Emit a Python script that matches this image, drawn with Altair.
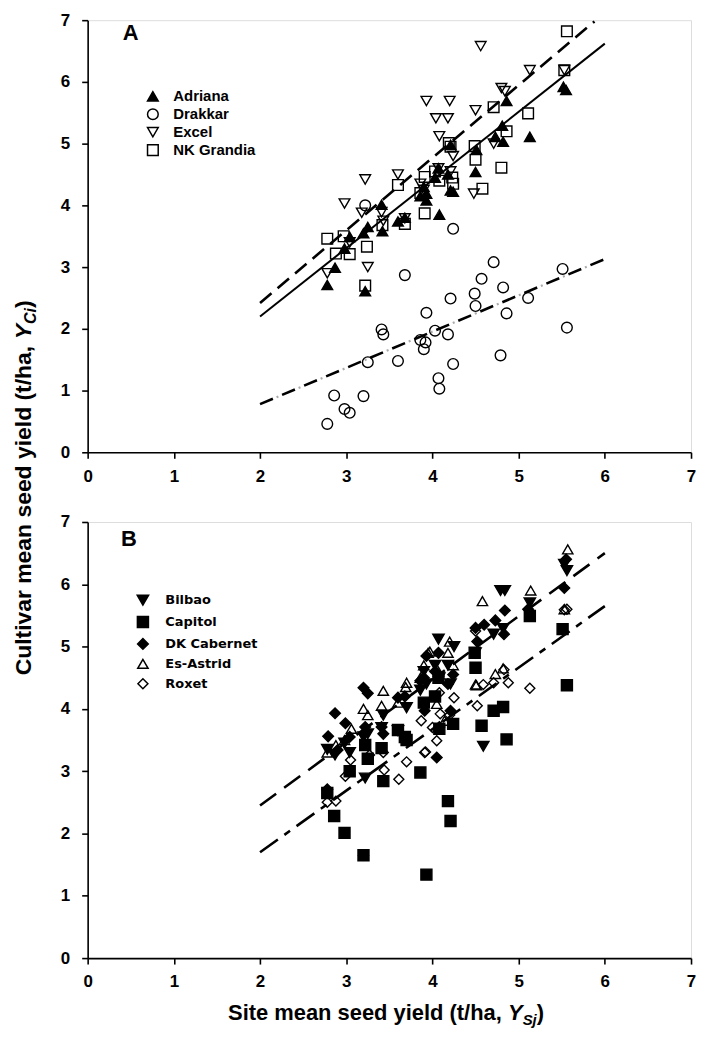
import altair as alt
import pandas as pd

FONT = "Liberation Sans"
TICKS = [0, 1, 2, 3, 4, 5, 6, 7]

# ---------------- Panel A data ----------------
NAMES_A = ["Adriana", "Drakkar", "Excel", "NK Grandia"]

ADRIANA_X = [2.78, 2.87, 2.98, 3.04, 3.20, 3.22, 3.25, 3.41, 3.42, 3.60, 3.68, 3.86, 3.90, 3.93, 3.93, 4.03,
             4.07, 4.08, 4.18, 4.21, 4.21, 4.24, 4.50, 4.51, 4.73, 4.82, 4.81, 4.86, 5.13, 5.52, 5.55]
ADRIANA_Y = [2.71, 2.99, 3.30, 3.49, 3.55, 2.61, 3.65, 4.01, 3.58, 3.74, 3.80, 4.15, 4.30, 4.19, 4.08, 4.45,
             4.60, 3.85, 4.50, 4.98, 4.24, 4.22, 4.54, 4.90, 5.11, 5.03, 5.29, 5.69, 5.11, 5.92, 5.87]

DRAKKAR_X = [2.78, 2.86, 2.98, 3.04, 3.20, 3.22, 3.25, 3.41, 3.43, 3.60, 3.68, 3.86, 3.90, 3.92, 3.93, 4.03,
             4.07, 4.08, 4.18, 4.21, 4.24, 4.24, 4.49, 4.50, 4.57, 4.71, 4.79, 4.82, 4.86, 5.11, 5.51, 5.56]
DRAKKAR_Y = [0.46, 0.92, 0.70, 0.64, 0.91, 4.00, 1.46, 1.99, 1.91, 1.48, 2.87, 1.82, 1.67, 1.78, 2.26, 1.97,
             1.20, 1.03, 1.91, 2.49, 1.43, 3.62, 2.57, 2.37, 2.81, 3.08, 1.57, 2.67, 2.25, 2.50, 2.97, 2.02]

EXCEL_X = [2.78, 2.98, 3.04, 3.18, 3.22, 3.25, 3.41, 3.43, 3.60, 3.68, 3.86, 3.90, 3.93, 4.04, 4.07, 4.08,
           4.18, 4.20, 4.21, 4.24, 4.48, 4.50, 4.56, 4.71, 4.80, 4.84, 5.13, 5.53]
EXCEL_Y = [2.90, 4.03, 3.40, 3.88, 4.42, 3.00, 3.89, 3.75, 4.50, 3.79, 4.35, 4.25, 5.69, 5.41, 4.60, 5.12,
           5.41, 5.69, 4.55, 4.80, 4.19, 5.54, 6.58, 5.00, 5.90, 5.85, 6.19, 6.19]

NK_X = [2.78, 2.88, 2.97, 3.04, 3.22, 3.24, 3.42, 3.60, 3.68, 3.86, 3.91, 3.91, 4.03, 4.08, 4.19, 4.21,
        4.23, 4.24, 4.49, 4.50, 4.58, 4.71, 4.80, 4.86, 5.11, 5.53, 5.56]
NK_Y = [3.46, 3.22, 3.50, 3.21, 2.70, 3.33, 3.68, 4.33, 3.70, 4.20, 3.87, 4.46, 4.55, 4.40, 5.01, 4.95,
        4.45, 4.35, 4.96, 4.74, 4.27, 5.59, 4.61, 5.20, 5.49, 6.19, 6.82]

# regression lines, panel A
LINE_X = [2.0, 6.0]
A_ALL_Y = [2.20, 6.62]
A_DASH_X = [2.0, 5.88]
A_DASH_Y = [2.42, 6.98]
A_DRAKKAR_Y = [0.78, 3.13]

# ---------------- Panel B data ----------------
NAMES_B = ["Bilbao", "Capitol", "DK Cabernet", "Es-Astrid", "Roxet"]

BILBAO_X = [2.78, 2.87, 2.98, 3.04, 3.20, 3.22, 3.25, 3.41, 3.43, 3.60, 3.70, 3.86, 3.90, 3.93, 4.03, 4.07,
            4.08, 4.18, 4.21, 4.25, 4.50, 4.59, 4.71, 4.79, 4.84, 4.82, 5.13, 5.53, 5.56]
BILBAO_Y = [3.35, 3.26, 3.45, 3.30, 3.55, 2.89, 3.60, 3.70, 3.90, 3.65, 4.02, 4.30, 4.60, 4.40, 4.70, 5.12,
            4.50, 4.70, 4.40, 5.00, 4.90, 3.40, 5.20, 5.90, 5.90, 5.29, 5.70, 6.32, 6.22]

CAPITOL_X = [2.78, 2.86, 2.98, 3.04, 3.20, 3.22, 3.25, 3.41, 3.43, 3.60, 3.68, 3.70, 3.86, 3.90, 3.93, 4.03,
             4.07, 4.08, 4.18, 4.21, 4.24, 4.49, 4.50, 4.57, 4.71, 4.82, 4.86, 5.13, 5.51, 5.56]
CAPITOL_Y = [2.65, 2.28, 2.01, 3.00, 1.65, 3.42, 3.20, 3.37, 2.84, 3.66, 3.55, 3.50, 2.98, 4.10, 1.34, 4.20,
             4.50, 3.68, 2.52, 2.20, 3.76, 4.90, 4.66, 3.73, 3.97, 4.03, 3.51, 5.49, 5.28, 4.38]

DK_X = [2.78, 2.79, 2.87, 2.90, 2.99, 3.04, 3.20, 3.22, 3.25, 3.41, 3.43, 3.60, 3.68, 3.86, 3.90, 3.91,
        3.93, 4.03, 4.05, 4.07, 4.08, 4.18, 4.21, 4.24, 4.50, 4.52, 4.60, 4.73, 4.83, 4.84, 5.11, 5.53, 5.55]
DK_Y = [2.71, 3.56, 3.93, 3.34, 3.77, 3.55, 4.34, 3.71, 4.25, 3.71, 3.60, 4.18, 4.20, 4.45, 4.50, 3.97,
        4.85, 4.60, 3.22, 4.90, 3.71, 4.40, 3.97, 4.55, 5.30, 5.08, 5.35, 5.42, 5.20, 5.58, 5.60, 5.94, 6.40]

ASTRID_X = [2.78, 2.88, 2.98, 3.06, 3.20, 3.25, 3.41, 3.43, 3.60, 3.69, 3.70, 3.86, 3.90, 3.95, 3.97, 4.05,
            4.07, 4.14, 4.18, 4.20, 4.24, 4.50, 4.51, 4.58, 4.73, 4.82, 5.14, 5.53, 5.57]
ASTRID_Y = [3.30, 3.42, 3.50, 3.68, 4.00, 3.90, 4.05, 4.29, 4.10, 4.35, 4.42, 4.50, 4.70, 4.90, 4.92, 4.08,
            4.60, 3.81, 4.90, 5.08, 4.70, 4.39, 4.38, 5.73, 4.56, 4.65, 5.90, 5.60, 6.56]

ROXET_X = [2.78, 2.88, 2.99, 3.05, 3.20, 3.27, 3.43, 3.44, 3.61, 3.70, 3.87, 3.91, 3.92, 4.00, 4.05, 4.08,
           4.09, 4.20, 4.25, 4.50, 4.52, 4.59, 4.71, 4.83, 4.88, 5.13, 5.53, 5.56]
ROXET_Y = [2.50, 2.52, 2.92, 3.18, 1.65, 3.26, 3.30, 3.02, 2.87, 3.15, 3.81, 3.30, 3.31, 3.70, 3.49, 4.26,
           3.92, 3.90, 4.18, 5.25, 4.05, 4.39, 4.42, 4.63, 4.42, 4.33, 5.59, 5.60]

# regression lines, panel B
B_UPPER_Y = [2.45, 6.50]
B_LOWER_Y = [1.70, 5.65]


def make_df(names, xs_list, ys_list):
    frames = []
    for n, xv, yv in zip(names, xs_list, ys_list):
        frames.append(pd.DataFrame({"x": xv, "y": yv, "cultivar": n}))
    return pd.concat(frames, ignore_index=True)


dfA = make_df(NAMES_A, [ADRIANA_X, DRAKKAR_X, EXCEL_X, NK_X], [ADRIANA_Y, DRAKKAR_Y, EXCEL_Y, NK_Y])
dfB = make_df(NAMES_B, [BILBAO_X, CAPITOL_X, DK_X, ASTRID_X, ROXET_X],
              [BILBAO_Y, CAPITOL_Y, DK_Y, ASTRID_Y, ROXET_Y])

W = 606
HA = 434
HB = 438


def axis():
    return alt.Axis(values=TICKS, format="d", title=None, grid=False, domainColor="black", domainWidth=1.6,
                    tickColor="black", tickWidth=1.6, tickSize=6, labelFont=FONT, labelFontSize=17,
                    labelFontWeight="bold", labelColor="black", labelPadding=10, labelFlush=False,
                    labelOverlap=False)


def yaxis():
    return alt.Axis(values=TICKS, format="d", title=None, grid=False, domainColor="black", domainWidth=1.6,
                    tickColor="black", tickWidth=1.6, tickSize=6, labelFont=FONT, labelFontSize=17,
                    labelFontWeight="bold", labelColor="black", labelPadding=12, labelFlush=False,
                    labelOverlap=False)


xs = alt.Scale(domain=[0, 7], nice=False, zero=False)
ys = alt.Scale(domain=[0, 7], nice=False, zero=False)


def line(xv, yv, width, dash=None, color="black"):
    d = pd.DataFrame({"x": xv, "y": yv})
    kw = dict(color=color, strokeWidth=width)
    if dash is not None:
        kw["strokeDash"] = dash
    return alt.Chart(d).mark_line(**kw).encode(x=alt.X("x:Q", scale=xs), y=alt.Y("y:Q", scale=ys))


def txt(s, x, y, size, angle=0, align="left", baseline="alphabetic", style="normal"):
    d = pd.DataFrame({"t": [s]})
    kw = dict(align=align, baseline=baseline, fontSize=size, fontWeight="bold", font=FONT,
              color="black", fontStyle=style)
    if angle:
        kw["angle"] = angle
    return alt.Chart(d).mark_text(**kw).encode(x=alt.value(x), y=alt.value(y), text="t:N")


# ---------------- Panel A chart ----------------
legA = alt.Legend(title=None, orient="none", legendX=58, legendY=69, padding=0,
                  labelFont=FONT, labelFontSize=15, labelFontWeight="bold", labelColor="black",
                  labelOffset=13, rowPadding=1, symbolStrokeWidth=1.5, symbolSize=115)

ptsA = alt.Chart(dfA).mark_point(opacity=1, size=115, strokeWidth=1.4).encode(
    x=alt.X("x:Q", scale=xs, axis=axis()),
    y=alt.Y("y:Q", scale=ys, axis=yaxis()),
    shape=alt.Shape("cultivar:N", scale=alt.Scale(domain=NAMES_A,
                    range=["triangle-up", "circle", "triangle-down", "square"]), legend=legA),
    fill=alt.Fill("cultivar:N", scale=alt.Scale(domain=NAMES_A,
                  range=["black", "transparent", "transparent", "transparent"]), legend=legA),
    stroke=alt.Stroke("cultivar:N", scale=alt.Scale(domain=NAMES_A,
                      range=["black", "black", "black", "black"]), legend=legA),
)

labA = alt.Chart(pd.DataFrame({"x": [0.50], "y": [6.79], "t": ["A"]})).mark_text(
    fontSize=22, fontWeight="bold", font=FONT, color="black", baseline="middle").encode(
    x=alt.X("x:Q", scale=xs), y=alt.Y("y:Q", scale=ys), text="t:N")

# shared y axis title, drawn in rotated pieces (italic subscript part)
ytitle = [
    txt("Cultivar mean seed yield (t/ha, ", -57, 658.0, 23, angle=270),
    txt("Y", -57, 320.5, 23, angle=270, style="italic"),
    txt("Ci", -52, 305.2, 16, angle=270, style="italic"),
    txt(")", -57, 289.2, 23, angle=270),
]

chartA = alt.layer(
    ptsA,
    line(LINE_X, A_ALL_Y, 2),
    line(A_DASH_X, A_DASH_Y, 2.6, [15, 8]),
    line(LINE_X, A_DRAKKAR_Y, 2.6, [14, 10]),
    line(LINE_X, A_DRAKKAR_Y, 2.2, [0, 18, 2, 4], color="#aaaaaa"),
    labA,
    *ytitle,
).properties(width=W, height=HA)

# ---------------- Panel B chart ----------------
legB = alt.Legend(title=None, orient="none", legendX=49, legendY=72, padding=0,
                  labelFont="DejaVu Sans", labelFontSize=13, labelFontWeight="bold", labelColor="black",
                  labelOffset=16, rowPadding=4, symbolStrokeWidth=1.5)

ptsB = alt.Chart(dfB).mark_point(opacity=1, strokeWidth=1.4).encode(
    x=alt.X("x:Q", scale=xs, axis=axis()),
    y=alt.Y("y:Q", scale=ys, axis=yaxis()),
    shape=alt.Shape("cultivar:N", scale=alt.Scale(domain=NAMES_B,
                    range=["triangle-down", "square", "diamond", "triangle-up", "diamond"]), legend=legB),
    fill=alt.Fill("cultivar:N", scale=alt.Scale(domain=NAMES_B,
                  range=["black", "black", "black", "transparent", "transparent"]), legend=legB),
    stroke=alt.Stroke("cultivar:N", scale=alt.Scale(domain=NAMES_B,
                      range=["black", "black", "black", "black", "black"]), legend=legB),
    size=alt.Size("cultivar:N", scale=alt.Scale(domain=NAMES_B,
                  range=[130, 100, 240, 130, 240]), legend=legB),
)

labB = alt.Chart(pd.DataFrame({"x": [0.48], "y": [6.72], "t": ["B"]})).mark_text(
    fontSize=22, fontWeight="bold", font=FONT, color="black", baseline="middle").encode(
    x=alt.X("x:Q", scale=xs), y=alt.Y("y:Q", scale=ys), text="t:N")

xtitle = [
    txt("Site mean seed yield (t/ha, ", 141, 500, 22),
    txt("Y", 422.2, 500, 22, style="italic"),
    txt("Sj", 436.9, 505, 15, style="italic"),
    txt(")", 451.1, 500, 22),
]

chartB = alt.layer(
    ptsB,
    line(LINE_X, B_UPPER_Y, 2.6, [20, 10]),
    line(LINE_X, B_LOWER_Y, 2.6, [22, 8, 7, 8]),
    labB,
    *xtitle,
).properties(width=W, height=HB)

chart = alt.vconcat(chartA, chartB, spacing=70, bounds="flush").resolve_scale(
    shape="independent", fill="independent", size="independent", stroke="independent"
).resolve_legend(
    shape="independent", fill="independent", size="independent", stroke="independent"
).properties(
    padding={"left": 4, "top": 0, "right": 0, "bottom": 0}
).configure_view(stroke=None).configure(background="white")

chart.save("out.html", embed_options={"renderer": "svg", "actions": False})
